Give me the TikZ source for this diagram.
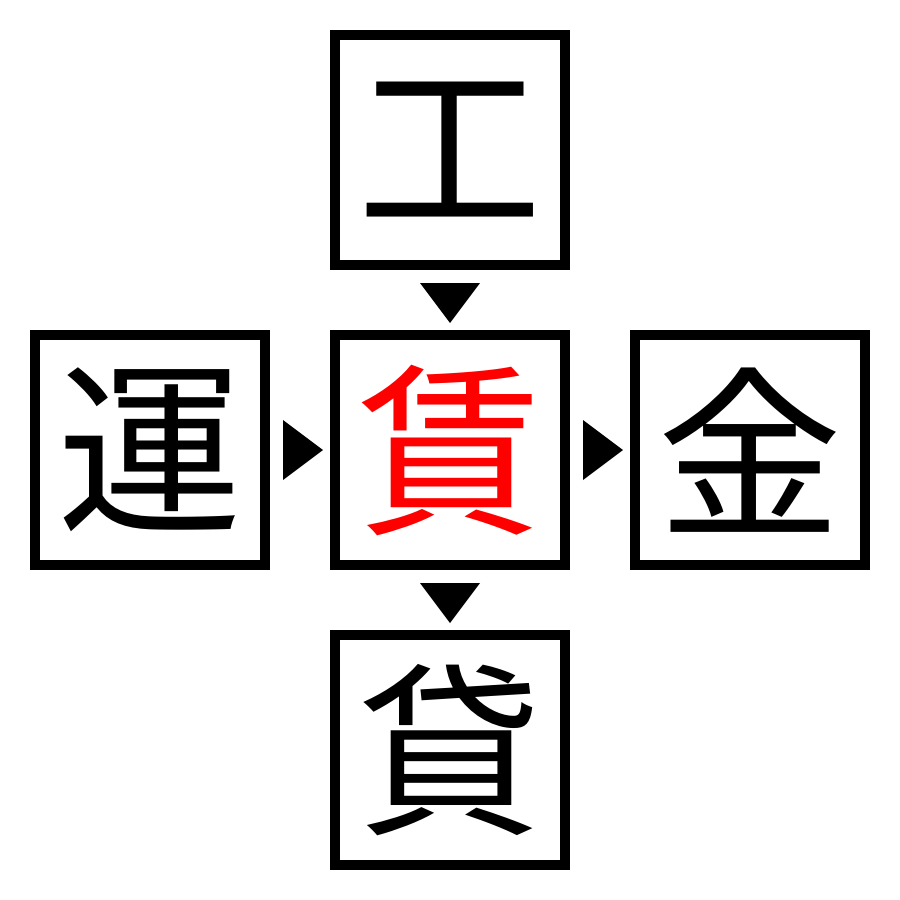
\documentclass[tikz,border=0pt]{standalone}
\usepackage{fontspec}
\newfontfamily\cjk{Noto Sans CJK JP}
\begin{document}
\begin{tikzpicture}[x=1pt,y=-1pt,
  box/.style={draw=black,line width=10pt,minimum size=230pt,inner sep=0pt,
    font=\cjk\fontsize{185}{185}\selectfont},
  tri/.style={fill=black}]
\useasboundingbox[fill=white] (0,0) rectangle (900,900);
\node[box] (top) at (450,150) {工};
\node[box] (left) at (150,450) {運};
\node[box,text=red] (mid) at (450,450) {賃};
\node[box] (right) at (750,450) {金};
\node[box] (bot) at (450,750) {貸};
\fill[tri] (420,283) -- (480,283) -- (450,323) -- cycle;
\fill[tri] (420,583) -- (480,583) -- (450,623) -- cycle;
\fill[tri] (283,420) -- (283,480) -- (323,450) -- cycle;
\fill[tri] (583,420) -- (583,480) -- (623,450) -- cycle;
\end{tikzpicture}
\end{document}
